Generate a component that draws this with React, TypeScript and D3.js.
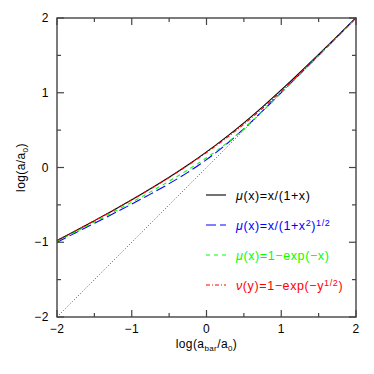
import React from 'react';
import * as d3 from 'd3';

// log(gbar/a0) sample points
const logGbar = [-2, -1.75, -1.5, -1.25, -1, -0.75, -0.5, -0.25, 0, 0.25, 0.5, 0.75, 1, 1.25, 1.5, 1.75, 2];

// log(g/a0) for each interpolating function
const simpleMu = [-0.978, -0.846, -0.711, -0.574, -0.432, -0.284, -0.130, 0.034, 0.209, 0.397, 0.598, 0.812, 1.038, 1.273, 1.513, 1.758, 2.004];
const standardMu = [-0.999, -0.873, -0.747, -0.619, -0.489, -0.356, -0.216, -0.065, 0.105, 0.299, 0.519, 0.757, 1.002, 1.251, 1.500, 1.750, 2.000];
const expMu = [-0.989, -0.860, -0.730, -0.598, -0.464, -0.326, -0.183, -0.032, 0.130, 0.310, 0.517, 0.752, 1.000, 1.250, 1.500, 1.750, 2.000];
const expNu = [-0.978, -0.846, -0.712, -0.575, -0.433, -0.287, -0.134, 0.028, 0.199, 0.383, 0.580, 0.793, 1.019, 1.256, 1.502, 1.750, 2.000];

// newtonian line y = x
const diagX = [-2, 2];
const diagY = [-2, 2];

const majorTicks = [-2, -1, 0, 1, 2];
const minorTicks = [-1.5, -0.5, 0.5, 1.5];
const tickLabels = ['\u22122', '\u22121', '0', '1', '2'];

const series = [
  { ys: simpleMu, color: '#000000', dash: null },
  { ys: standardMu, color: '#0000ff', dash: '10,4' },
  { ys: expMu, color: '#00ff00', dash: '4,4' },
  { ys: expNu, color: '#ff0000', dash: '4,2,1,2' },
];

const margin = { top: 18, right: 18, bottom: 57, left: 57 };
const W = 374;
const H = 374;
const font = '"Liberation Sans", Arial, sans-serif';

const App = () => {
  const x = d3.scaleLinear().domain([-2, 2]).range([margin.left, W - margin.right]);
  const y = d3.scaleLinear().domain([-2, 2]).range([H - margin.bottom, margin.top]);
  const [x0, x1] = x.range();
  const [y0, y1] = y.range();

  const line = d3.line<[number, number]>()
    .x(d => x(d[0]))
    .y(d => y(d[1]))
    .curve(d3.curveMonotoneX);

  const frame = '#444';
  const tick = (v: number, len: number, key: string) => (
    <g key={key} stroke={frame} strokeWidth={1.2}>
      <line x1={x(v)} x2={x(v)} y1={y0} y2={y0 - len} />
      <line x1={x(v)} x2={x(v)} y1={y1} y2={y1 + len} />
      <line x1={x0} x2={x0 + len} y1={y(v)} y2={y(v)} />
      <line x1={x1} x2={x1 - len} y1={y(v)} y2={y(v)} />
    </g>
  );

  const mu = <tspan fontStyle="italic">{'\u03bc'}</tspan>;
  const nu = <tspan fontStyle="italic">{'\u03bd'}</tspan>;
  const legend = [
    { color: '#000', dash: null, label: <>{mu}{'(x)=x/(1+x)'}</> },
    { color: '#0000ff', dash: '10,4', label: <>{mu}{'(x)=x/(1+x'}<tspan dy={-4} fontSize={9}>2</tspan><tspan dy={4}>{')'}</tspan><tspan dy={-4} fontSize={9}>1/2</tspan></> },
    { color: '#00ff00', dash: '4,4', label: <>{mu}{'(x)=1\u2212exp(\u2212x)'}</> },
    { color: '#ff0000', dash: '4,2,1,2', label: <>{nu}{'(y)=1\u2212exp(\u2212y'}<tspan dy={-4} fontSize={9}>1/2</tspan><tspan dy={4}>{')'}</tspan></> },
  ];

  return (
    <svg width={W} height={H} style={{ position: 'absolute', left: 0, top: 0 }} fontFamily={font}>
      <rect width={W} height={H} fill="#fff" />

      {/* y = x */}
      <path d={line(diagX.map((v, i) => [v, diagY[i]]) as [number, number][]) || ''}
        fill="none" stroke="#555" strokeWidth={1} strokeDasharray="1,2" />

      {series.map((s, i) => (
        <path key={i} d={line(logGbar.map((v, j) => [v, s.ys[j]]) as [number, number][]) || ''}
          fill="none" stroke={s.color} strokeWidth={1.1}
          strokeDasharray={s.dash || undefined} />
      ))}

      {/* frame and ticks */}
      <rect x={x0} y={y1} width={x1 - x0} height={y0 - y1} fill="none" stroke={frame} strokeWidth={1.4} />
      {majorTicks.map(v => tick(v, 7, 'M' + v))}
      {minorTicks.map(v => tick(v, 4, 'm' + v))}

      {majorTicks.map((v, i) => (
        <text key={'xl' + v} x={x(v)} y={y0 + 16} textAnchor="middle" fontSize={12} letterSpacing={0.5}>{tickLabels[i]}</text>
      ))}
      {majorTicks.map((v, i) => (
        <text key={'yl' + v} x={x0 - 8} y={y(v) + 4} textAnchor="end" fontSize={12} letterSpacing={0.5}>{tickLabels[i]}</text>
      ))}

      <text x={(x0 + x1) / 2} y={y0 + 31} textAnchor="middle" fontSize={12} letterSpacing={0.4}>
        log(a<tspan dy={3} fontSize={8}>bar</tspan><tspan dy={-3}>/a</tspan><tspan dy={3} fontSize={8}>0</tspan><tspan dy={-3}>)</tspan>
      </text>
      <text transform={`translate(25, ${(y0 + y1) / 2}) rotate(-90)`} textAnchor="middle" fontSize={12} letterSpacing={0.4}>
        log(a/a<tspan dy={3} fontSize={8}>0</tspan><tspan dy={-3}>)</tspan>
      </text>

      {legend.map((l, i) => {
        const ry = 195 + i * 30;
        return (
          <g key={'lg' + i}>
            <line x1={206} x2={226} y1={ry} y2={ry} stroke={l.color} strokeWidth={1.1}
              strokeDasharray={l.dash || undefined} />
            <text x={236} y={ry + 5} fill={l.color} fontSize={12.5} letterSpacing={0.6}>{l.label}</text>
          </g>
        );
      })}
    </svg>
  );
};

export default App;
